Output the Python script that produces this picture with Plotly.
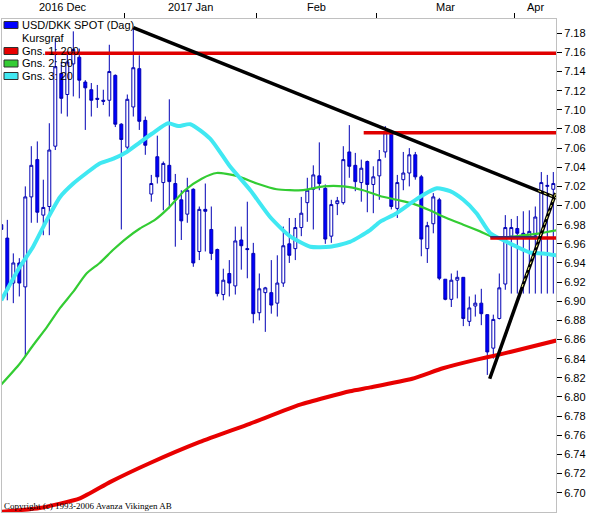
import plotly.graph_objects as go

# ---------------- data ----------------
opens = [6.980, 6.966, 6.919, 6.940, 6.915, 7.009, 7.048, 6.990, 6.999, 7.062,
         7.138, 7.116, 7.148, 7.155, 7.129, 7.121, 7.112, 7.110, 7.110, 7.136,
         7.085, 7.061, 7.103, 7.143, 7.089, 7.012, 7.051, 7.024, 7.042, 7.023,
         7.006, 6.991, 7.017, 6.952, 6.996, 6.975, 6.954, 6.907, 6.929, 6.916,
         6.964, 6.955, 6.950, 6.888, 6.909, 6.909, 6.898, 6.919, 6.960, 6.955,
         6.977, 7.003, 7.017, 7.031, 7.018, 6.968, 7.002, 7.003, 7.056, 7.042,
         7.024, 7.046, 7.022, 7.031, 7.056, 7.075, 6.997, 7.027, 7.034, 7.053,
         7.030, 6.955, 6.981, 7.006, 6.923, 6.902, 6.922, 6.925, 6.879, 6.895,
         6.898, 6.886, 6.851, 6.882, 6.918, 6.968, 6.976, 6.971, 6.968, 6.969,
         6.971, 7.020, 7.017]
highs = [7.083, 6.985, 6.950, 6.945, 7.020, 7.062, 7.067, 7.027, 7.086, 7.175,
         7.150, 7.161, 7.182, 7.164, 7.131, 7.128, 7.126, 7.121, 7.168, 7.137,
         7.086, 7.116, 7.185, 7.157, 7.093, 7.032, 7.073, 7.046, 7.111, 7.033,
         7.016, 7.029, 7.018, 6.999, 7.023, 6.999, 6.955, 6.934, 6.943, 6.978,
         6.978, 7.004, 6.961, 6.929, 6.915, 6.943, 6.948, 6.978, 6.987, 6.987,
         7.009, 7.029, 7.042, 7.066, 7.022, 7.006, 7.009, 7.062, 7.084, 7.055,
         7.048, 7.047, 7.041, 7.058, 7.083, 7.079, 7.032, 7.056, 7.060, 7.056,
         7.032, 6.983, 7.013, 7.008, 6.923, 6.929, 6.932, 6.925, 6.905, 6.907,
         6.913, 6.886, 6.886, 6.929, 6.990, 6.986, 6.989, 6.994, 6.995, 6.999,
         7.035, 7.032, 7.035]
lows = [6.900, 6.901, 6.898, 6.905, 6.842, 6.982, 6.982, 6.969, 6.969, 7.058,
        7.096, 7.093, 7.114, 7.112, 7.079, 7.093, 7.102, 7.105, 7.093, 7.082,
        6.975, 7.058, 7.093, 7.079, 7.053, 7.004, 7.023, 6.995, 6.997, 6.957,
        6.964, 6.982, 6.936, 6.943, 6.952, 6.943, 6.905, 6.901, 6.905, 6.907,
        6.933, 6.924, 6.877, 6.880, 6.868, 6.887, 6.884, 6.915, 6.940, 6.943,
        6.968, 6.983, 6.975, 7.016, 6.960, 6.961, 6.990, 7.001, 7.029, 7.015,
        7.004, 6.993, 6.992, 7.006, 7.050, 6.996, 6.987, 7.016, 7.020, 7.027,
        6.947, 6.940, 6.971, 6.922, 6.901, 6.894, 6.903, 6.874, 6.874, 6.884,
        6.875, 6.823, 6.840, 6.881, 6.912, 6.908, 6.908, 6.908, 6.908, 6.908,
        6.908, 6.908, 6.908]
closes = [6.975, 6.912, 6.940, 6.919, 7.009, 7.042, 6.993, 6.998, 7.058, 7.145,
          7.112, 7.150, 7.163, 7.131, 7.123, 7.110, 7.111, 7.109, 7.140, 7.085,
          7.069, 7.111, 7.144, 7.088, 7.063, 7.023, 7.030, 7.044, 7.025, 7.006,
          6.984, 7.016, 6.940, 6.996, 6.994, 6.950, 6.908, 6.922, 6.919, 6.963,
          6.958, 6.954, 6.887, 6.913, 6.914, 6.896, 6.919, 6.958, 6.948, 6.977,
          6.992, 7.016, 7.032, 7.023, 6.965, 7.001, 7.005, 7.048, 7.041, 7.025,
          7.039, 7.022, 7.030, 7.048, 7.076, 6.999, 7.024, 7.034, 7.053, 7.030,
          6.965, 6.979, 7.009, 6.924, 6.902, 6.922, 6.925, 6.882, 6.893, 6.898,
          6.887, 6.847, 6.881, 6.914, 6.977, 6.977, 6.971, 6.968, 6.973, 6.988,
          7.024, 7.021, 7.023]
days = list(range(len(opens)))

month_labels = ["2016 Dec", "2017 Jan", "Feb", "Mar", "Apr"]
month_first_day = [0, 21, 43, 63, 86]

# moving averages read at sample days
ma200_x = [0, 6.4, 13.1, 18.1, 24.8, 33.1, 41.4, 49.8, 58.1, 61.5, 68.5, 73.6, 79.2, 82.8, 84.8, 92.5]
ma200_y = [6.680, 6.684, 6.694, 6.711, 6.731, 6.753, 6.772, 6.792, 6.806, 6.810, 6.819, 6.830, 6.839, 6.844, 6.847, 6.859]

ma50_x = [0, 3.1, 5.3, 7.6, 9.8, 12, 14.2, 16.4, 18.7, 20.9, 23.1, 25.6, 27.8, 30.6, 33.4, 35.9,
          39.2, 42.6, 45.9, 50.3, 53.7, 57, 60.3, 63.1, 65.9, 68.6, 71.4, 74.2, 77, 79.8, 82, 84.2,
          87, 89.8, 92.5]
ma50_y = [6.813, 6.835, 6.854, 6.873, 6.893, 6.910, 6.929, 6.940, 6.954, 6.966, 6.976, 6.985, 6.997,
          7.016, 7.028, 7.034, 7.031, 7.023, 7.017, 7.016, 7.020, 7.020, 7.016, 7.010, 7.006, 7.002,
          6.995, 6.987, 6.980, 6.973, 6.967, 6.967, 6.969, 6.971, 6.974]

ma20_x = [0, 3.1, 5.3, 7.6, 9.8, 12, 14.2, 16.4, 18.7, 20.9, 23.1, 25.1, 27.8, 29.5, 31.5, 34.8,
          38.1, 41.5, 44.8, 48.1, 51.5, 54.8, 58.1, 61.4, 63.1, 65.9, 68.6, 70.3, 72.6, 74.8, 77,
          79.2, 81.5, 83.6, 85.9, 88.1, 90.3, 92.5]
ma20_y = [6.901, 6.936, 6.957, 6.985, 7.009, 7.023, 7.034, 7.044, 7.049, 7.056, 7.066, 7.075, 7.086,
          7.083, 7.085, 7.070, 7.041, 7.016, 6.988, 6.968, 6.957, 6.957, 6.962, 6.974, 6.983, 6.992,
          7.004, 7.011, 7.018, 7.015, 7.006, 6.992, 6.971, 6.964, 6.957, 6.951, 6.950, 6.948]

# drawn trend lines and horizontal levels
down_trend_x = [22, 92.45]
down_trend_y = [7.186, 7.008]
up_trend_x = [81.4, 92.4]
up_trend_y = [6.819, 7.013]
level_values = [7.159, 7.076, 6.966]
level_start_day = [7.3, 60.4, 81.5]
# thin dark segment drawn on the lower level
dark_level_x = [81.5, 89.3]
dark_level_y = [6.9675, 6.9675]
# dotted highlight on the trend lines (selected objects)
up_highlight_x = [86.8, 92.4]
up_highlight_y = [6.915, 7.013]
down_highlight_x = [89.5, 92.45]
down_highlight_y = [7.0155, 7.008]

y_ticks = [round(6.70 + 0.02 * i, 2) for i in range(25)]

legend_items = [("USD/DKK SPOT (Dag)", "#0000FF"), ("Kursgraf", None),
                ("Gns. 1: 200", "#E80000"), ("Gns. 2: 50", "#33CC33"), ("Gns. 3: 20", "#40E8F2")]

# ---------------- figure ----------------
X0, X1 = 0.117, 92.45
Y0, Y1 = 6.6798, 7.1949
W, H = 592, 514
ML, MR, MT, MB = 2, 36, 19, 2
PW, PH = W - ML - MR, H - MT - MB

fig = go.Figure()

fig.add_trace(go.Candlestick(
    x=days, open=opens, high=highs, low=lows, close=closes,
    increasing=dict(line=dict(color="#0000B4", width=1), fillcolor="white"),
    decreasing=dict(line=dict(color="#0000B4", width=1), fillcolor="#0000FF"),
    whiskerwidth=0, hoverinfo="skip", showlegend=False))

fig.add_trace(go.Scatter(x=ma200_x, y=ma200_y, mode="lines",
                         line=dict(color="#E80000", width=4, shape="spline", smoothing=0.5),
                         hoverinfo="skip", showlegend=False))
fig.add_trace(go.Scatter(x=ma50_x, y=ma50_y, mode="lines",
                         line=dict(color="#33CC33", width=2.2, shape="spline", smoothing=0.6),
                         hoverinfo="skip", showlegend=False))
fig.add_trace(go.Scatter(x=ma20_x, y=ma20_y, mode="lines",
                         line=dict(color="#40E8F2", width=4, shape="spline", smoothing=0.6),
                         hoverinfo="skip", showlegend=False))

for lv, st in zip(level_values, level_start_day):
    fig.add_trace(go.Scatter(x=[st, X1], y=[lv, lv], mode="lines",
                             line=dict(color="#E00000", width=3.5), hoverinfo="skip", showlegend=False))
fig.add_trace(go.Scatter(x=dark_level_x, y=dark_level_y, mode="lines",
                         line=dict(color="#3A2A70", width=1.5), hoverinfo="skip", showlegend=False))

fig.add_trace(go.Scatter(x=down_trend_x, y=down_trend_y, mode="lines",
                         line=dict(color="black", width=3.5), hoverinfo="skip", showlegend=False))
fig.add_trace(go.Scatter(x=up_trend_x, y=up_trend_y, mode="lines",
                         line=dict(color="black", width=3.5), hoverinfo="skip", showlegend=False))
fig.add_trace(go.Scatter(x=up_highlight_x, y=up_highlight_y, mode="lines",
                         line=dict(color="#FFFF80", width=1, dash="dot"), hoverinfo="skip", showlegend=False))
fig.add_trace(go.Scatter(x=down_highlight_x, y=down_highlight_y, mode="lines",
                         line=dict(color="#FFFF80", width=1, dash="dot"), hoverinfo="skip", showlegend=False))

# month ticks (boundaries) and labels
bounds = [d - 0.5 for d in month_first_day[1:]]
edges = [X0] + bounds + [X1]
centers = [(edges[i] + edges[i + 1]) / 2 for i in range(len(month_labels))]
annotations = []
for lab, cx in zip(month_labels, centers):
    annotations.append(dict(x=cx, y=1, xref="x", yref="paper", yshift=12, text=lab,
                            showarrow=False, xanchor="center", yanchor="middle",
                            font=dict(family="Liberation Sans, Arial", size=11, color="black")))

# legend block
def px_x(p):
    return (p - ML) / PW

def px_y(p):
    return (H - MB - p) / PH

shapes = []
row_y = [25, 38, 51, 63.5, 76]
for (txt, col), ry in zip(legend_items, row_y):
    if col:
        shapes.append(dict(type="rect", xref="paper", yref="paper",
                           x0=px_x(4), x1=px_x(18), y0=px_y(ry + 3.5), y1=px_y(ry - 3.5),
                           fillcolor=col, line=dict(color="#303030", width=1)))
    annotations.append(dict(x=px_x(20), y=px_y(ry), xref="paper", yref="paper", text=txt,
                            showarrow=False, xanchor="left", yanchor="middle",
                            font=dict(family="Liberation Sans, Arial", size=11, color="black")))

annotations.append(dict(x=px_x(2), y=px_y(506), xref="paper", yref="paper",
                        text="Copyright (c) 1993-2006 Avanza Vikingen AB", showarrow=False,
                        xanchor="left", yanchor="middle",
                        font=dict(family="Liberation Serif, Times New Roman", size=9, color="black")))

fig.update_layout(
    width=W, height=H, margin=dict(l=ML, r=MR, t=MT, b=MB),
    paper_bgcolor="white", plot_bgcolor="white", showlegend=False,
    annotations=annotations, shapes=shapes,
    xaxis=dict(range=[X0, X1], side="top", showgrid=False, zeroline=False,
               showline=True, linecolor="#C0C0C0", mirror=True,
               ticks="outside", tickvals=bounds, ticklen=5, tickcolor="black",
               showticklabels=False, rangeslider=dict(visible=False), fixedrange=True),
    yaxis=dict(range=[Y0, Y1], side="right", showgrid=False, zeroline=False,
               showline=True, linecolor="#C0C0C0", mirror=True,
               ticks="outside", ticklen=5, tickcolor="black",
               tickvals=y_ticks, ticktext=[f"{v:.2f}" for v in y_ticks],
               tickfont=dict(family="Liberation Sans, Arial", size=11, color="black"),
               fixedrange=True),
)

fig.write_html("out.html", config={"displayModeBar": False},
               post_script="document.body.style.margin='0';document.body.style.overflow='hidden';")
